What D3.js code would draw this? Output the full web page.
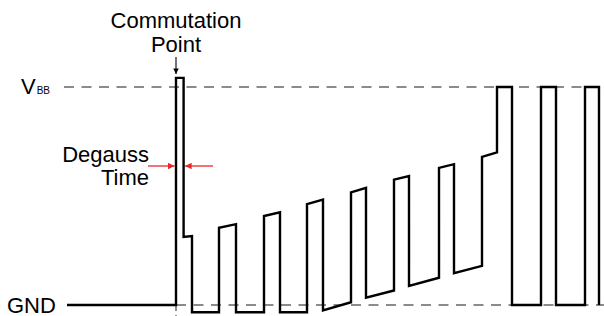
<!DOCTYPE html>
<html>
<head>
<meta charset="utf-8">
<script src="https://cdn.jsdelivr.net/npm/d3@7"></script>
<style>
  body { margin: 0; background: #fff; }
  svg { display: block; font-family: "Liberation Sans", Arial, sans-serif; }
</style>
</head>
<body>
<svg id="chart" width="604" height="316"></svg>
<script>
// time axis in arbitrary units, commutation point at t = 0
var waveT = [-27.25, 0, 0, 1.9, 1.9, 4, 4, 10.75, 10.75, 15, 15, 22, 22, 26, 26,
    32.75, 32.75, 36.75, 36.75, 43.75, 43.75, 47.5, 47.5, 54.5, 54.5, 58.25, 58.25,
    65.75, 65.75, 69.5, 69.5, 76.5, 76.5, 80.25, 80.25, 84, 84, 91.25, 91.25, 95, 95,
    102.25, 102.25, 105.75, 105.75]
// voltage, GND = 0, VBB = 12
var waveV = [0, 0, 12.5, 12.5, 3.75, 3.8, -0.4, -0.4, 4.25, 4.45, -0.4, -0.4, 4.9, 5.1, -0.4,
    -0.4, 5.55, 5.8, -0.3, 0.15, 6.2, 6.45, 0.4, 0.8, 6.9, 7.1, 1.05,
    1.5, 7.55, 7.75, 1.75, 2.15, 8.15, 8.4, 12, 12, 0, 0, 12, 12, 0,
    0, 12, 12, 0]

var levelNames = ["VBB", "GND"]
var levelValues = [12, 0]
var commutationT = 0
var degaussEndT = 1.9

var svg = d3.select("#chart")

var x = d3.scaleLinear().domain([-28, 107]).range([64, 604])
var y = d3.scaleLinear().domain([0, 12]).range([305, 87])

var red = "#e8282b"

var defs = svg.append("defs")
defs.append("marker")
    .attr("id", "redHead")
    .attr("viewBox", "0 0 10 10")
    .attr("refX", 10).attr("refY", 5)
    .attr("markerWidth", 5).attr("markerHeight", 5)
    .attr("markerUnits", "strokeWidth")
    .attr("orient", "auto")
  .append("path")
    .attr("d", "M0,0L10,5L0,10Z")
    .attr("fill", red)
defs.append("marker")
    .attr("id", "blackHead")
    .attr("viewBox", "0 0 10 10")
    .attr("refX", 10).attr("refY", 5)
    .attr("markerWidth", 6).attr("markerHeight", 5)
    .attr("markerUnits", "strokeWidth")
    .attr("orient", "auto")
  .append("path")
    .attr("d", "M0,0L10,5L0,10Z")
    .attr("fill", "#000")

// reference levels (dashed)
svg.append("line")
    .attr("x1", x(-28)).attr("x2", x(107))
    .attr("y1", y(levelValues[0])).attr("y2", y(levelValues[0]))
    .attr("stroke", "#666").attr("stroke-width", 1.5)
    .attr("stroke-dasharray", "10,7.5")
svg.append("line")
    .attr("x1", x(commutationT)).attr("x2", x(107))
    .attr("y1", y(levelValues[1])).attr("y2", y(levelValues[1]))
    .attr("stroke", "#666").attr("stroke-width", 1.5)
    .attr("stroke-dasharray", "10,7.5")

// commutation marker below GND
svg.append("line")
    .attr("x1", x(commutationT)).attr("x2", x(commutationT))
    .attr("y1", y(0)).attr("y2", 316)
    .attr("stroke", "#444").attr("stroke-width", 1.2)
    .attr("stroke-dasharray", "6,4")

// waveform
var pts = waveT.map(function(t, i) { return [t, waveV[i]] })
var line = d3.line()
    .x(function(d) { return x(d[0]) })
    .y(function(d) { return y(d[1]) })
svg.append("path")
    .attr("d", line(pts))
    .attr("fill", "none")
    .attr("stroke", "#000")
    .attr("stroke-width", 2.4)
    .attr("stroke-linejoin", "miter")

// level labels
var vl = svg.append("text")
    .attr("x", 21).attr("y", y(levelValues[0]) + 7)
    .attr("font-size", 22).attr("fill", "#000")
vl.append("tspan").text(levelNames[0].charAt(0))
vl.append("tspan").attr("font-size", 10).attr("dx", 1).attr("dy", 0)
    .text(levelNames[0].slice(1))

svg.append("text")
    .attr("x", 7).attr("y", y(levelValues[1]) + 8)
    .attr("font-size", 22).attr("fill", "#000")
    .text(levelNames[1])

// commutation annotation
var cx = x(commutationT)
svg.append("text")
    .attr("x", cx).attr("y", 28)
    .attr("text-anchor", "middle")
    .attr("font-size", 22)
    .text("Commutation")
svg.append("text")
    .attr("x", cx).attr("y", 52)
    .attr("text-anchor", "middle")
    .attr("font-size", 22)
    .text("Point")
svg.append("line")
    .attr("x1", cx).attr("x2", cx)
    .attr("y1", 57).attr("y2", 74)
    .attr("stroke", "#000").attr("stroke-width", 1.1)
    .attr("marker-end", "url(#blackHead)")

// degauss time annotation
var ay = 166
svg.append("line")
    .attr("x1", 148).attr("x2", x(commutationT) - 1.5)
    .attr("y1", ay).attr("y2", ay)
    .attr("stroke", red).attr("stroke-width", 1.3)
    .attr("marker-end", "url(#redHead)")
svg.append("line")
    .attr("x1", 213).attr("x2", x(degaussEndT) + 1.5)
    .attr("y1", ay).attr("y2", ay)
    .attr("stroke", red).attr("stroke-width", 1.3)
    .attr("marker-end", "url(#redHead)")
svg.append("text")
    .attr("x", 149).attr("y", 162)
    .attr("text-anchor", "end")
    .attr("font-size", 22)
    .text("Degauss")
svg.append("text")
    .attr("x", 149).attr("y", 185)
    .attr("text-anchor", "end")
    .attr("font-size", 22)
    .text("Time")
</script>
</body>
</html>
